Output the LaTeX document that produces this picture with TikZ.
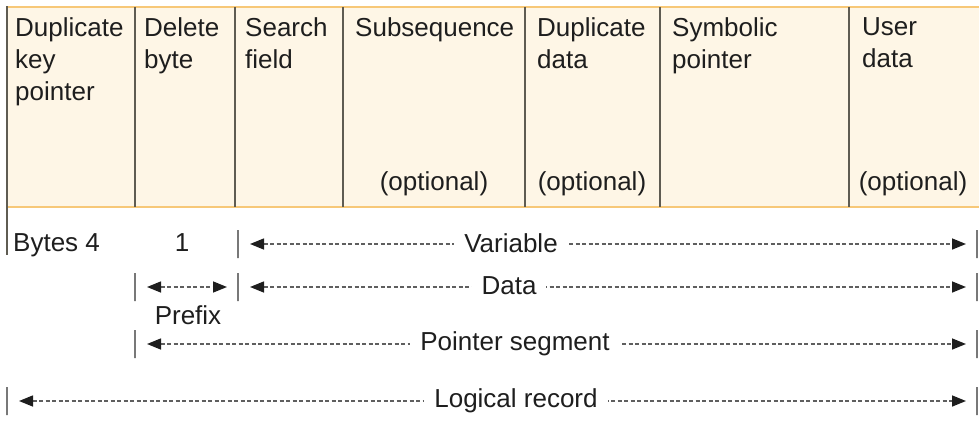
\documentclass[tikz,border=0pt]{standalone}
\usepackage{fontspec}
\setmainfont{Liberation Sans}
\usepackage{xcolor}
\definecolor{recfill}{RGB}{254,246,230}
\definecolor{recedge}{RGB}{247,200,120}
\definecolor{recrule}{RGB}{95,92,82}
\definecolor{spangray}{RGB}{95,95,95}
\definecolor{tickgray}{RGB}{120,120,120}
\definecolor{inkgray}{RGB}{30,30,30}
\usetikzlibrary{arrows.meta}

\begin{document}
\begin{tikzpicture}[x=1pt, y=-1pt,
    every node/.style={font=\fontsize{26}{32}\selectfont, text=inkgray, inner sep=0pt},
    fieldtext/.style={anchor=north west, align=left},
    opttext/.style={anchor=base},
    divider/.style={draw=recrule, line width=2pt},
    endtick/.style={draw=tickgray, line width=2pt, rectangle, minimum width=0pt,
                    minimum height=28pt, outer sep=0pt},
    span/.style={draw=spangray, line width=1.5pt, dash pattern=on 4pt off 2.5pt,
                 {Triangle[length=14pt,width=11pt,color=inkgray]}-{Triangle[length=14pt,width=11pt,color=inkgray]},
                 shorten <=12pt, shorten >=11pt},
    spanlabel/.style={fill=white, inner xsep=10pt, inner ysep=3pt}]
  \useasboundingbox (0,0) rectangle (979,423);

  % Record layout
  \fill[recfill] (7,7) rectangle (979,207);
  \draw[recedge, line width=2.2pt] (7,7) -- (979,7) (7,207) -- (979,207);
  \draw[recrule, line width=2pt] (7,6) -- (7,255);
  \foreach \x in {135,235,343,525,660,849}
    \draw[divider] (\x,7) -- (\x,207);

  % Field names
  \node[fieldtext] (dkp) at (15,17) {Duplicate\\key\\pointer};
  \node[fieldtext] (del) at (144,17) {Delete\\byte};
  \node[fieldtext] (srch) at (245,17) {Search\\field};
  \node[fieldtext] (subseq) at (355,17) {Subsequence};
  \node[fieldtext] (dupdata) at (537,17) {Duplicate\\data};
  \node[fieldtext] (sym) at (672,17) {Symbolic\\pointer};
  \node[fieldtext] (user) at (862,17.4) {User\\data};
  \node[opttext] (subseq-opt) at (434,190) {(optional)};
  \node[opttext] (dupdata-opt) at (592,190) {(optional)};
  \node[opttext] (user-opt) at (913,190) {(optional)};

  % Byte counts
  \node[anchor=base west] (bytes) at (13,251) {Bytes 4};
  \node[anchor=base] (one) at (182,251) {1};

  % Variable
  \node[endtick] (var-l) at (238,244) {};
  \node[endtick] (var-r) at (977,244) {};
  \draw[span] (var-l) -- (var-r);
  \node[spanlabel] (var) at (511,243) {Variable};

  % Prefix and data
  \node[endtick] (pre-l) at (135,287) {};
  \node[endtick] (pre-r) at (238,287) {};
  \node[endtick] (data-r) at (977,287) {};
  \draw[span] (pre-l) -- (pre-r);
  \draw[span] (pre-r) -- (data-r);
  \node[spanlabel] (data) at (509,286) {Data};
  \node (prefix) at (188,315) {Prefix};

  % Pointer segment
  \node[endtick] (ptr-l) at (135,344) {};
  \node[endtick] (ptr-r) at (977,344) {};
  \draw[span] (ptr-l) -- (ptr-r);
  \node[spanlabel] (ptr) at (515,344) {Pointer segment};

  % Logical record
  \node[endtick] (log-l) at (7,401) {};
  \node[endtick] (log-r) at (977,401) {};
  \draw[span] (log-l) -- (log-r);
  \node[spanlabel] (log) at (516,401) {Logical record};
\end{tikzpicture}
\end{document}
